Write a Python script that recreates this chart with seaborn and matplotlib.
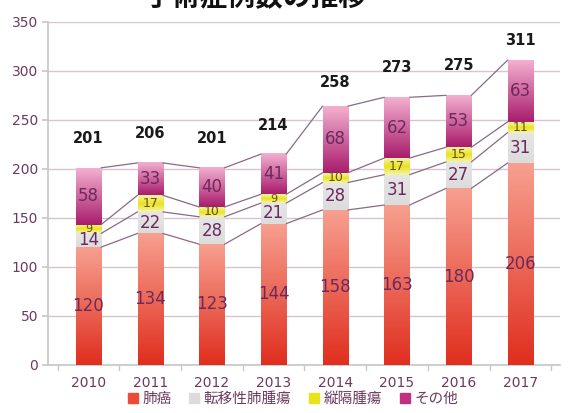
import numpy as np
import pandas as pd
import matplotlib
matplotlib.use('Agg')
import matplotlib.pyplot as plt
import seaborn as sns
from matplotlib.colors import LinearSegmentedColormap
from matplotlib.patches import Patch

years = ['2010', '2011', '2012', '2013', '2014', '2015', '2016', '2017']
lung = [120, 134, 123, 144, 158, 163, 180, 206]
metastatic = [14, 22, 28, 21, 28, 31, 27, 31]
mediastinal = [9, 17, 10, 9, 10, 17, 15, 11]
other = [58, 33, 40, 41, 68, 62, 53, 63]
totals = [201, 206, 201, 214, 258, 273, 275, 311]
series_names = ['肺癌', '転移性肺腫瘍', '縦隔腫瘍', 'その他']

sns.set_theme(style='white')
plt.rcParams['font.family'] = ['Noto Sans CJK JP', 'DejaVu Sans']

df = pd.DataFrame({'year': years, 'lung': lung, 'metastatic': metastatic,
                   'mediastinal': mediastinal, 'other': other})
df['c0'] = 0
df['c1'] = df['lung']
df['c2'] = df['c1'] + df['metastatic']
df['c3'] = df['c2'] + df['mediastinal']
df['c4'] = df['c3'] + df['other']

fig, ax = plt.subplots(figsize=(5.69, 4.13), dpi=100)
fig.subplots_adjust(left=0.085, right=0.985, top=0.947, bottom=0.117)

bar_w = 0.41
for col in ['c4', 'c3', 'c2', 'c1']:
    sns.barplot(data=df, x='year', y=col, color='white', width=bar_w,
                ax=ax, linewidth=0, saturation=1, zorder=2)

# gradient fill for each segment
grads = {
    'lung': ['#e02e1e', '#f7a090'],
    'metastatic': ['#dcdcdc', '#e6e6e6'],
    'mediastinal': ['#f4f4b0', '#e8e41c', '#f4f4b0'],
    'other': ['#a81c6c', '#f4b0d0'],
}
bottoms = {'lung': 'c0', 'metastatic': 'c1', 'mediastinal': 'c2', 'other': 'c3'}
tops = {'lung': 'c1', 'metastatic': 'c2', 'mediastinal': 'c3', 'other': 'c4'}
grad = np.linspace(0, 1, 256).reshape(-1, 1)
for i in range(len(years)):
    for key in grads:
        y0 = df.loc[i, bottoms[key]]
        y1 = df.loc[i, tops[key]]
        cmap = LinearSegmentedColormap.from_list(key, grads[key])
        ax.imshow(grad, extent=(i - bar_w / 2, i + bar_w / 2, y0, y1),
                  origin='lower', aspect='auto', cmap=cmap, zorder=3)

# connector lines between bars
for col in ['c1', 'c2', 'c3', 'c4']:
    for i in range(len(years) - 1):
        ax.plot([i + bar_w / 2, i + 1 - bar_w / 2],
                [df.loc[i, col], df.loc[i + 1, col]],
                color='#8a6a84', lw=0.9, zorder=4)

# segment labels and totals
lab_color = '#6b2a5e'
for i in range(len(years)):
    for key in grads:
        y0 = df.loc[i, bottoms[key]]
        y1 = df.loc[i, tops[key]]
        val = df.loc[i, key]
        if key == 'mediastinal':
            fs, c = (8 if val < 10 else 9), '#6b4a20'
        else:
            fs, c = 12, lab_color
        ax.text(i, (y0 + y1) / 2, str(val), ha='center', va='center',
                fontsize=fs, color=c, family=['DejaVu Sans'], zorder=5)
    ax.text(i, min(totals[i] + 30, 331), str(totals[i]), ha='center', va='center',
            fontsize=10.5, fontweight='bold', color='#1a1a1a',
            family=['DejaVu Sans'], zorder=5)

ax.set_xlim(-0.65, len(years) - 0.35)
ax.set_ylim(0, 350)
ax.set_yticks(range(0, 351, 50))
ax.set_xlabel('')
ax.set_ylabel('')
ax.yaxis.grid(True, color='#d8c4d0', lw=1)
ax.set_axisbelow(True)
for s in ['top', 'right']:
    ax.spines[s].set_visible(False)
ax.spines['left'].set_color('#c8c8c8')
ax.spines['bottom'].set_color('#c8c8c8')
ax.tick_params(axis='y', colors='#6b3a5e', labelsize=10, length=4, left=True, color='#c8c8c8')
ax.tick_params(axis='x', colors='#6b3a5e', labelsize=10, length=0, pad=8)
for lbl in ax.get_xticklabels() + ax.get_yticklabels():
    lbl.set_family(['DejaVu Sans'])
for i in range(len(years) + 1):
    ax.plot([i - 0.5, i - 0.5], [0, -5], color='#c8c8c8', lw=1, clip_on=False)

handles = [Patch(color=c) for c in ['#ee4a38', '#dcdcdc', '#e8e41c', '#c0307e']]
fig.legend(handles, series_names, loc='lower center', bbox_to_anchor=(0.515, -0.015),
           ncol=4, frameon=False, fontsize=10.5, handlelength=0.7, handleheight=0.7,
           handletextpad=0.3, columnspacing=1.2, labelcolor='#6b3a5e')

# title, partly cut off at the top edge as in the source
fig.text(0.45, 1.008, '手術症例数の推移', ha='center', va='center', fontsize=20,
         fontweight='bold', color='#111111')

fig.savefig('out.png', dpi=100)
